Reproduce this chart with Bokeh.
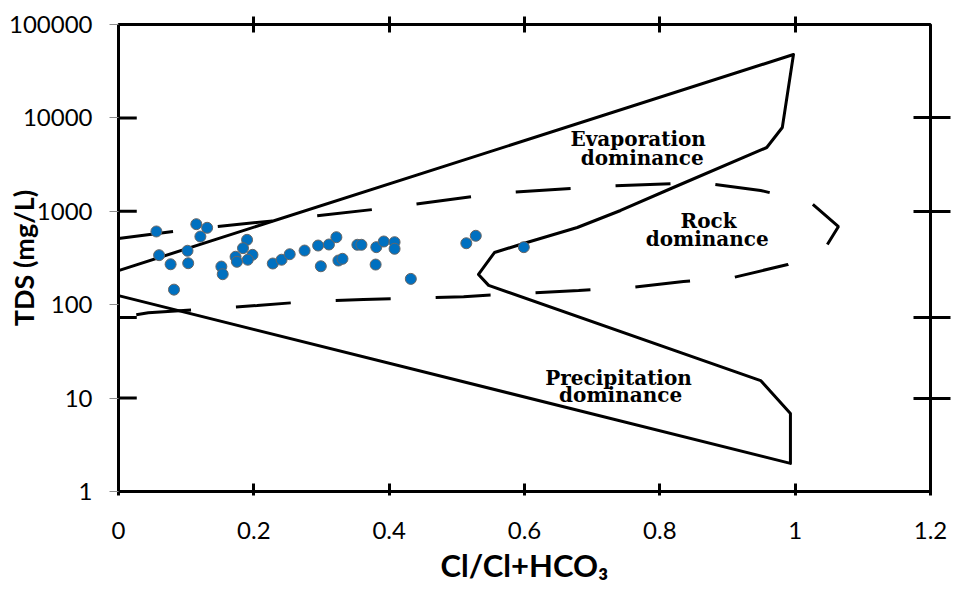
from bokeh.plotting import figure
from bokeh.models import (Range1d, FixedTicker, LinearAxis, LogAxis,
                          CustomJSTickFormatter)
from bokeh.core.properties import value
from bokeh.embed import file_html
from bokeh.resources import INLINE

# ---- sample data: Cl/(Cl+HCO3) ratio and TDS (mg/L) ----
cl_ratio = [0.056, 0.115, 0.131, 0.121, 0.060, 0.077, 0.102, 0.103, 0.082, 0.152,
            0.154, 0.173, 0.175, 0.190, 0.184, 0.198, 0.191, 0.228, 0.241, 0.253,
            0.275, 0.295, 0.311, 0.322, 0.299, 0.325, 0.331, 0.353, 0.359, 0.381,
            0.392, 0.408, 0.408, 0.380, 0.432, 0.514, 0.528, 0.599]
tds = [608, 728, 666, 537, 339, 271, 378, 278, 145, 256,
       212, 326, 288, 495, 403, 342, 303, 276, 303, 347,
       380, 430, 441, 528, 258, 297, 310, 438, 438, 413,
       475, 467, 397, 269, 189, 455, 547, 413]

# ---- Gibbs diagram outer boundary (solid) ----
boundary_x = [0.0, 0.9975, 0.981, 0.958, 0.820, 0.742, 0.678, 0.5985, 0.5556,
              0.532, 0.547, 0.949, 0.989, 0.993, 0.993, 0.0]
boundary_y = [232, 47750, 7890, 4820, 1798, 1020, 671, 452, 362,
              211, 161, 15.4, 7.36, 6.84, 2.0, 125]

# ---- rock-dominance envelope (dashed) ----
dash_x = [0.0, 0.092, 0.232, 0.402, 0.557, 0.712, 0.860, 0.949, 1.023, 1.064, 1.042,
          0.989, 0.909, 0.835, 0.757, 0.680, 0.594, 0.510, 0.439, 0.362, 0.279,
          0.205, 0.121, 0.044, 0.0]
dash_y = [511, 623, 796, 1098, 1553, 1844, 2034, 1671, 1242, 687, 380,
          269, 196, 177, 153, 142, 132, 122, 117, 114, 108,
          98, 89, 82, 73]

# ---- zone labels ----
zone_text = ["Evaporation", "dominance", "Rock", "dominance", "Precipitation", "dominance"]
zone_x = [0.768, 0.774, 0.872, 0.870, 0.739, 0.742]
zone_y = [6015, 3767, 778, 511, 16.6, 10.7]

# ---- ticks ----
x_ticks = [0, 0.2, 0.4, 0.6, 0.8, 1.0, 1.2]
y_ticks = [1, 10, 100, 1000, 10000, 100000]
diag_x_ticks = [0.2, 0.4, 0.6, 0.8, 1.0]
diag_y_ticks = [10000, 1000, 73, 10]

p = figure(width=973, height=593, x_range=Range1d(0, 1.2), y_range=Range1d(1, 100000),
           y_axis_type="log", output_backend="svg", toolbar_location=None,
           min_border_left=118, min_border_right=43, min_border_top=24,
           min_border_bottom=102, background_fill_color="white",
           border_fill_color="white")
p.grid.visible = False
p.outline_line_color = "black"
p.outline_line_width = 3

xa = p.xaxis[0]
xa.ticker = FixedTicker(ticks=x_ticks)
xa.formatter = CustomJSTickFormatter(code="return String(Math.round(tick*10)/10)")
xa.axis_line_color = None
xa.major_tick_in = 8
xa.major_tick_out = 4
xa.major_tick_line_width = 3
xa.major_tick_line_color = "black"
xa.minor_tick_line_color = None
xa.major_label_text_font = "Lato"
xa.major_label_text_font_size = "24px"
xa.major_label_text_color = "black"
xa.major_label_standoff = 26
xa.axis_label = "Cl/Cl+HCO\u2083"
xa.axis_label_text_font = "Lato"
xa.axis_label_text_font_style = "bold"
xa.axis_label_text_font_size = "31px"
xa.axis_label_text_color = "black"
xa.axis_label_standoff = 4

ya = p.yaxis[0]
ya.ticker = FixedTicker(ticks=y_ticks)
ya.formatter = CustomJSTickFormatter(code="return String(Math.round(tick))")
ya.axis_line_color = None
ya.major_tick_in = 0
ya.major_tick_out = 9
ya.major_tick_line_color = "#8c8c8c"
ya.minor_tick_line_color = None
ya.major_label_text_font = "Lato"
ya.major_label_text_font_size = "24px"
ya.major_label_text_color = "black"
ya.major_label_standoff = 17
ya.axis_label = "TDS (mg/L)"
ya.axis_label_text_font = "Lato"
ya.axis_label_text_font_style = "bold"
ya.axis_label_text_font_size = "27px"
ya.axis_label_text_color = "black"
ya.axis_label_standoff = -34

top = LinearAxis(ticker=FixedTicker(ticks=diag_x_ticks),
                 formatter=CustomJSTickFormatter(code="return ''"),
                 major_tick_in=8, major_tick_out=8, major_tick_line_width=3,
                 major_tick_line_color="black", axis_line_color=None,
                 minor_tick_line_color=None, major_label_standoff=0,
                 major_label_text_font_size="1px")
p.add_layout(top, "above")

right = LogAxis(ticker=FixedTicker(ticks=diag_y_ticks),
                formatter=CustomJSTickFormatter(code="return ''"),
                major_tick_in=17, major_tick_out=20, major_tick_line_width=3,
                major_tick_line_color="black", axis_line_color=None,
                minor_tick_line_color=None, major_label_standoff=0,
                major_label_text_font_size="1px")
p.add_layout(right, "right")

# inner left ticks of the Gibbs frame
p.segment(x0=[0] * len(diag_y_ticks), y0=diag_y_ticks,
          x1=[0.027] * len(diag_y_ticks), y1=diag_y_ticks,
          line_color="black", line_width=3)

p.line(boundary_x, boundary_y, line_color="black", line_width=3, line_join="round")
p.line(dash_x, dash_y, line_color="black", line_width=3, line_dash="55 45")

p.text(x=zone_x, y=zone_y, text=zone_text, text_font=value("DejaVu Serif"),
       text_font_style="bold", text_font_size="20px", text_align="center",
       text_baseline="middle", text_color="black")

p.scatter(cl_ratio, tds, size=11, fill_color="#0070C0", line_color="#666666",
          line_width=1)

open("out.html", "w").write(file_html(p, INLINE))
